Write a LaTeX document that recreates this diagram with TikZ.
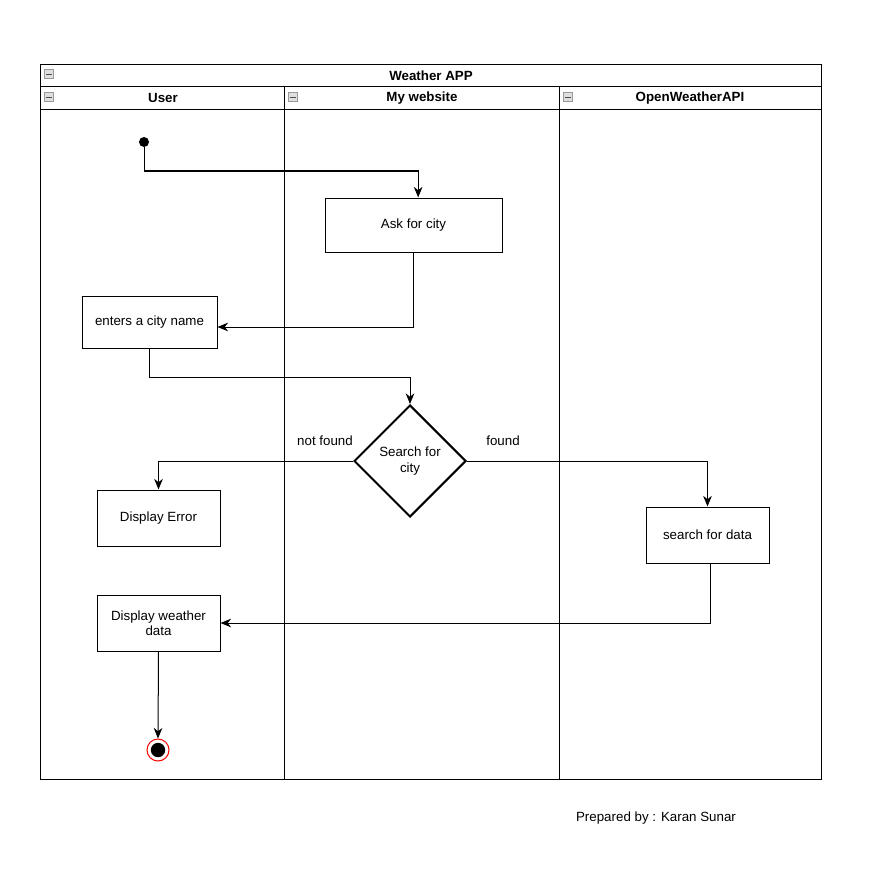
\documentclass[tikz,border=0pt]{standalone}
\usepackage{fontspec}
\setmainfont{Liberation Sans}
\usetikzlibrary{shapes.geometric,arrows.meta}

\tikzset{
  action/.style={rectangle, draw, line width=0.75pt, inner sep=2pt, align=center, font=\fontsize{10}{11.5}\selectfont},
  decision/.style={diamond, draw, line width=1.5pt, aspect=1, minimum size=84pt, inner sep=0pt, align=center, font=\fontsize{10}{11.5}\selectfont},
  flow/.style={line width=0.75pt, -{Stealth[length=8pt,width=6.5pt]}},
  lanetitle/.style={font=\fontsize{10}{11.5}\selectfont\bfseries},
  guard/.style={font=\fontsize{10}{11.5}\selectfont},
  minusbox/.style={rectangle, draw=gray!80, fill=gray!25, line width=0.4pt, minimum size=7pt, inner sep=0pt,
    path picture={\draw[line width=0.7pt, black!70] ([xshift=1.5pt]path picture bounding box.west) -- ([xshift=-1.5pt]path picture bounding box.east);}},
}

\begin{document}
\begin{tikzpicture}[x=0.75pt,y=-0.75pt]
    \useasboundingbox (0,0) rectangle (874,888);
    % couloirs
    \draw[line width=0.75pt] (40,65) rectangle (821,779);
    \draw[line width=0.75pt] (40,87) -- (821,87);
    \draw[line width=0.75pt] (40,110) -- (821,110);
    \draw[line width=0.75pt] (284,87) -- (284,779);
    \draw[line width=0.75pt] (559,87) -- (559,779);
    \node[lanetitle] (pool) at (431,76) {Weather APP};
    \node[lanetitle] (laneuser) at (163,98) {User};
    \node[lanetitle] (laneweb) at (422,98) {My website};
    \node[lanetitle] (laneapi) at (690,98) {OpenWeatherAPI};
    \node[minusbox] (m0) at (49,74) {};
    \node[minusbox] (m1) at (49,97) {};
    \node[minusbox] (m2) at (293,97) {};
    \node[minusbox] (m3) at (568,97) {};
    % debut
    \node[circle, fill=black, minimum size=7.5pt, inner sep=0pt] (start) at (144,142) {};
    % actions
    \node[action, minimum width=132.75pt, minimum height=40.5pt] (ask) at (413.5,225) {Ask for city};
    \node[action, minimum width=101.25pt, minimum height=39pt] (enter) at (149.5,322) {enters a city name};
    \node[decision] (search) at (410,461) {Search for\\city};
    \node[action, minimum width=92.25pt, minimum height=42pt] (error) at (158.5,518) {Display Error};
    \node[action, minimum width=92.25pt, minimum height=42pt] (fetch) at (707.5,535) {search for data};
    \node[action, minimum width=92.25pt, minimum height=42pt] (show) at (158.5,623) {Display weather\\data};
    % fin
    \node[circle, draw=red, line width=0.75pt, minimum size=16.5pt, inner sep=0pt] (stop) at (158,750) {};
    \fill (stop) circle (5.4pt);
    % gardes
    \node[guard] (notfound) at (325,441) {not found};
    \node[guard] (found) at (503,441) {found};
    % transitions
    \draw[flow] (start) -- ++(0,29) -| ([xshift=3.5pt]ask.north);
    \draw[flow] (ask.south) |- ([yshift=-3.75pt]enter.east);
    \draw[flow] (enter.south) -- ++(0,29) -| (search.north);
    \draw[flow] (search.west) -| (error.north);
    \draw[flow] (search.east) -| (fetch.north);
    \draw[flow] ([xshift=2.6pt]fetch.south) |- (show.east);
    \draw[flow] (show.south) -- (stop.north);
    % signature
    \node[guard] (sign) at (656,818) {Prepared by : Karan Sunar};
\end{tikzpicture}
\end{document}
